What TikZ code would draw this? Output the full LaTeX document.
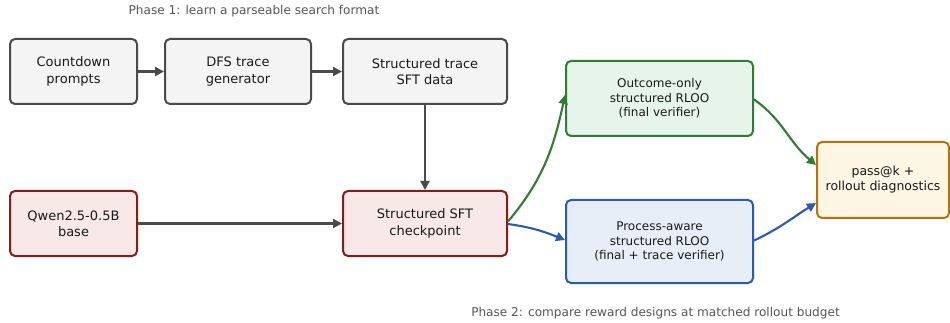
\documentclass[tikz,border=0pt]{standalone}
\usepackage{fontspec}
\setmainfont{DejaVu Sans}
\usetikzlibrary{arrows.meta}

\definecolor{grayfill}{HTML}{F4F4F4}
\definecolor{graydraw}{HTML}{4A4A4A}
\definecolor{redfill}{HTML}{F9E8E8}
\definecolor{reddraw}{HTML}{8B1A1A}
\definecolor{greenfill}{HTML}{E6F4EC}
\definecolor{greendraw}{HTML}{2E7D32}
\definecolor{bluefill}{HTML}{E7EEF8}
\definecolor{bluedraw}{HTML}{2B5BAE}
\definecolor{orangefill}{HTML}{FEF6E4}
\definecolor{orangedraw}{HTML}{B8720A}
\definecolor{labelgray}{HTML}{555555}

\tikzset{
  box/.style={rounded corners=5pt, line width=2pt, align=center,
    inner sep=0pt, text=black!90},
  bigtext/.style={font=\fontsize{13}{16.3}\selectfont},
  smalltext/.style={font=\fontsize{12}{14.3}\selectfont},
  graybox/.style={box, bigtext, fill=grayfill, draw=graydraw},
  redbox/.style={box, bigtext, fill=redfill, draw=reddraw},
  greenbox/.style={box, smalltext, fill=greenfill, draw=greendraw},
  bluebox/.style={box, smalltext, fill=bluefill, draw=bluedraw},
  orangebox/.style={box, font=\fontsize{12.5}{15}\selectfont, fill=orangefill, draw=orangedraw},
  link/.style={line width=2.1pt, -{Triangle[length=9pt,width=9pt]}},
  phase/.style={text=labelgray, font=\fontsize{12.1}{14}\selectfont}
}

\begin{document}
\begin{tikzpicture}[x=1pt, y=-1pt]
\useasboundingbox (0,0) rectangle (950,323);

% Phase 1 row
\node[graybox, minimum width=127pt, minimum height=65pt] (prompts) at (73.5,71.5) {Countdown\\prompts};
\node[graybox, minimum width=146pt, minimum height=65pt] (dfs) at (238,71.5) {DFS trace\\generator};
\node[graybox, minimum width=164pt, minimum height=65pt] (sftdata) at (425,71.5) {Structured trace\\SFT data};

% Base model and SFT checkpoint
\node[redbox, minimum width=127pt, minimum height=65pt] (qwen) at (73.5,223.5) {Qwen2.5-0.5B\\base};
\node[redbox, minimum width=164pt, minimum height=65pt] (ckpt) at (425,223.5) {Structured SFT\\checkpoint};

% RL variants
\node[greenbox, minimum width=187pt, minimum height=75pt] (outcome) at (659.5,98.5) {Outcome-only\\structured RLOO\\(final verifier)};
\node[bluebox, minimum width=187pt, minimum height=83pt] (process) at (659.5,241.5) {Process-aware\\structured RLOO\\(final + trace verifier)};

% Evaluation
\node[orangebox, minimum width=132pt, minimum height=76pt] (eval) at (883,180) {pass@k +\\rollout diagnostics};

% Phase labels
\node[phase] (phaseone) at (254,11) {Phase 1: learn a parseable search format};
\node[phase] (phasetwo) at (655.5,313) {Phase 2: compare reward designs at matched rollout budget};

% Connectors
\draw[link, graydraw] (prompts) -- (dfs);
\draw[link, graydraw] (dfs) -- (sftdata);
\draw[link, graydraw] (sftdata) -- (ckpt);
\draw[link, graydraw] (qwen) -- (ckpt);

\draw[link, greendraw] ([yshift=2pt]ckpt.east) to[out=50, in=-102] ([yshift=3.5pt]outcome.west);
\draw[link, bluedraw] ([yshift=-0.5pt]ckpt.east) to[out=-8, in=158] ([yshift=1.5pt]process.west);
\draw[link, greendraw] ([yshift=-1pt]outcome.east) to[out=-35, in=140] ([yshift=15pt]eval.west);
\draw[link, bluedraw] ([yshift=1pt]process.east) to[out=25, in=-148] ([yshift=-23pt]eval.west);
\end{tikzpicture}
\end{document}
